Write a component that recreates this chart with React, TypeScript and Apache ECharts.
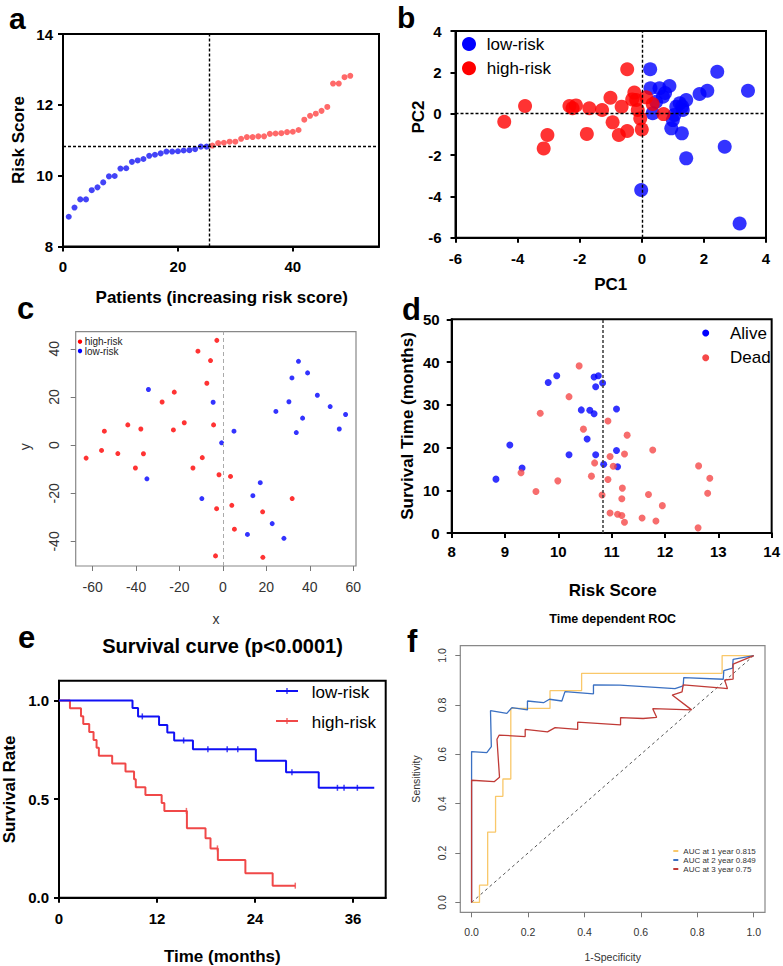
import React, { useEffect, useRef } from "react";
import * as echarts from "echarts";

const FONT = "'Liberation Sans', Arial, Helvetica, sans-serif";

// ---------- Panel a: risk score by patient ----------
const riskLow = [8.84, 9.1, 9.33, 9.33, 9.59, 9.67, 9.81, 9.98, 9.99, 10.2, 10.21, 10.39, 10.43, 10.47, 10.56, 10.59, 10.63, 10.68, 10.68, 10.69, 10.71, 10.72, 10.75, 10.82, 10.82];
const riskHigh = [10.85, 10.92, 10.93, 10.96, 10.96, 11.04, 11.09, 11.09, 11.11, 11.11, 11.18, 11.19, 11.2, 11.23, 11.24, 11.29, 11.58, 11.69, 11.75, 11.83, 11.94, 12.6, 12.6, 12.78, 12.82];
const riskCutoff = 10.84;
const patientSplit = 25.5;
const aXTicks = [0, 20, 40];
const aYTicks = [8, 10, 12, 14];

// ---------- Panel b: PCA ----------
const pcaLow = [[0.27, 2.15], [2.43, 2.03], [3.42, 1.11], [1.86, 0.95], [2.11, 1.11], [0.89, 1.34], [0.57, 1.23], [0.28, 1.23], [1.43, 0.66], [1.22, 0.5], [1.32, 0.18], [0.35, 0.02], [1.0, -0.31], [0.95, -0.71], [1.29, -0.95], [2.67, -1.6], [1.43, -2.16], [-0.02, -3.69], [3.15, -5.31], [0.68, 0.82], [1.11, 0.34], [1.05, -0.06], [0.46, 0.58], [0.75, 1.0], [1.3, 0.35]];
const pcaHigh = [[-4.43, -0.39], [-3.76, 0.37], [-3.16, -1.68], [-3.04, -1.03], [-2.33, 0.37], [-2.23, 0.26], [-2.12, 0.4], [-1.69, 0.26], [-1.28, 0.18], [-1.77, -0.98], [-1.01, 0.77], [-0.94, -0.42], [-0.65, 0.34], [-0.74, -1.03], [-0.47, -0.84], [-0.47, 2.15], [-0.24, 1.02], [-0.31, 0.69], [-0.13, 0.18], [-0.05, -0.23], [0, -0.76], [0.14, 0.79], [0.35, 0.47], [0.7, -0.02], [-0.18, 0.66]];
const bTicks = [-6, -4, -2, 0, 2, 4];

// ---------- Panel c: t-SNE ----------
const tsneHigh = [[-2.8, 43.5], [-11.5, 39.0], [-5.7, 35.1], [-7.4, 25.7], [-22.4, 22.0], [-28.0, 17.9], [-54.6, 5.8], [-43.8, 8.4], [-37.8, 6.7], [-22.8, 6.3], [-17.8, 9.3], [-4.3, 8.4], [-63.0, -5.4], [-55.9, -2.2], [-48.4, -3.5], [-36.6, -3.6], [-40.3, -9.5], [-13.8, -9.5], [-9.5, -5.2], [-1.8, -12.3], [3.5, -13.0], [31.9, -22.2], [-2.9, -26.4], [4.1, -25.0], [18.3, -27.7], [5.3, -34.9], [-3.4, -46.0], [18.4, -46.6]];
const tsneLow = [[-34.3, 23.1], [-4.5, 17.8], [-0.6, 0.95], [5.1, 5.8], [-35.0, -14.0], [17.2, -15.6], [24.4, 14.0], [30.4, 18.0], [31.8, 27.9], [34.8, 34.8], [39.0, 30.0], [36.7, 11.2], [33.8, 5.2], [43.5, 20.7], [49.4, 16.0], [56.5, 12.7], [53.6, 6.7], [-9.7, -22.2], [13.8, -21.0], [22.7, -32.6], [11.3, -37.1], [28.1, -38.7]];
const cXTicks = [-60, -40, -20, 0, 20, 40, 60];
const cYTicks = [-40, -20, 0, 20, 40];

// ---------- Panel d: survival status ----------
const alivePts = [[8.83, 12.6], [9.09, 20.6], [9.32, 15.2], [9.81, 35.2], [9.97, 36.8], [10.2, 18.3], [10.43, 28.8], [10.59, 28.7], [10.67, 27.9], [10.54, 22.0], [10.67, 36.5], [10.75, 36.8], [10.7, 34.2], [10.83, 35.1], [10.7, 18.3], [10.85, 16.1], [11.09, 29.0], [11.09, 19.3], [11.11, 15.5]];
const deadPts = [[10.39, 39.1], [10.2, 31.9], [9.66, 28.0], [10.47, 24.3], [10.93, 26.2], [11.29, 22.9], [11.77, 19.4], [10.97, 17.9], [11.24, 18.5], [11.03, 15.6], [10.68, 16.4], [12.63, 15.7], [12.84, 12.8], [9.3, 14.1], [9.99, 12.2], [10.62, 13.3], [10.93, 12.5], [9.58, 9.7], [10.82, 8.9], [11.2, 10.5], [11.19, 8.0], [11.69, 9.0], [12.8, 9.3], [11.95, 6.4], [10.97, 4.7], [11.11, 4.4], [11.19, 4.1], [11.24, 2.5], [11.57, 3.5], [11.83, 2.8], [12.62, 1.2]];
const dXTicks = [8, 9, 10, 11, 12, 13, 14];
const dYTicks = [0, 10, 20, 30, 40, 50];

// ---------- Panel e: Kaplan-Meier ----------
const kmLowTime = [0, 9.0, 9.68, 12.25, 13.26, 14.1, 16.4, 24.1, 27.8, 31.8, 38.6];
const kmLowSurv = [1.0, 0.961, 0.919, 0.876, 0.838, 0.797, 0.753, 0.694, 0.636, 0.557, 0.557];
const kmLowCensorTime = [10.2, 15.26, 18.23, 20.59, 21.89, 28.52, 34.09, 34.9, 36.53];
const kmLowCensorSurv = [0.919, 0.797, 0.753, 0.753, 0.753, 0.636, 0.557, 0.557, 0.557];
const kmHighTime = [0, 1.34, 2.69, 2.97, 3.7, 4.23, 4.6, 4.88, 6.51, 8.14, 9.19, 9.4, 10.58, 12.57, 12.9, 15.66, 17.94, 18.55, 19.45, 22.82, 26.16, 28.93];
const kmHighSurv = [1.0, 0.96, 0.92, 0.88, 0.84, 0.8, 0.76, 0.72, 0.68, 0.64, 0.6, 0.56, 0.52, 0.48, 0.44, 0.352, 0.301, 0.25, 0.191, 0.124, 0.061, 0.061];
const kmHighCensorTime = [15.6, 19.4, 28.93];
const kmHighCensorSurv = [0.44, 0.25, 0.061];
const eXTicks = [0, 12, 24, 36];
const eYTicks = [0, 0.5, 1.0];

// ---------- Panel f: time-dependent ROC ----------
const roc1 = [[0, 0], [0.028, 0], [0.028, 0.07], [0.057, 0.07], [0.057, 0.285], [0.085, 0.285], [0.085, 0.43], [0.111, 0.43], [0.111, 0.5], [0.139, 0.5], [0.139, 0.786], [0.278, 0.786], [0.278, 0.858], [0.39, 0.858], [0.39, 0.928], [0.888, 0.928], [0.888, 1.0], [1, 1]];
const roc2 = [[0, 0], [0, 0.611], [0.054, 0.607], [0.07, 0.631], [0.067, 0.777], [0.125, 0.766], [0.143, 0.789], [0.198, 0.78], [0.198, 0.816], [0.255, 0.809], [0.276, 0.823], [0.32, 0.816], [0.331, 0.854], [0.432, 0.845], [0.432, 0.881], [0.526, 0.88], [0.721, 0.866], [0.75, 0.877], [0.752, 0.911], [0.892, 0.904], [0.894, 0.939], [0.925, 0.949], [0.927, 0.985], [1, 1]];
const roc3 = [[0, 0], [0, 0.495], [0.08, 0.489], [0.099, 0.507], [0.09, 0.661], [0.098, 0.678], [0.19, 0.672], [0.19, 0.701], [0.269, 0.691], [0.296, 0.708], [0.376, 0.701], [0.376, 0.73], [0.528, 0.719], [0.528, 0.749], [0.608, 0.745], [0.656, 0.75], [0.642, 0.785], [0.78, 0.78], [0.711, 0.84], [0.746, 0.853], [0.75, 0.881], [0.89, 0.868], [0.907, 0.866], [0.897, 0.901], [0.927, 0.905], [0.927, 0.965], [1, 1]];
const rocDiag = [[0, 0], [1, 1]];
const rocLabels = ["AUC at 1 year 0.815", "AUC at 2 year 0.849", "AUC at 3 year 0.75"];
const fTicks = [0, 0.2, 0.4, 0.6, 0.8, 1.0];

const BLUE = "#0000FF";
const RED = "#FF0000";
const RED_A = "#FF4343";
const RED_D = "#F54848";
const ROC_COLORS = ["#F9C86A", "#3A70C2", "#C03A36"];

function boldAxis(gridIndex: number, min: number, max: number, ticks: number[], margin: number, fmt?: (v: number) => string) {
  return {
    gridIndex, type: "value", min, max,
    axisLine: { show: true, onZero: false, lineStyle: { color: "#000", width: 2 } },
    axisTick: { show: true, length: 5, customValues: ticks, lineStyle: { color: "#000", width: 2 } },
    axisLabel: { show: true, customValues: ticks, margin, color: "#000", fontFamily: FONT, fontWeight: "bold", fontSize: 15, formatter: fmt },
    splitLine: { show: false },
  };
}

function rAxis(gridIndex: number, min: number, max: number, ticks: number[], margin: number, fontSize: number, rotate: number, fmt?: (v: number) => string) {
  return {
    gridIndex, type: "value", min, max,
    axisLine: { show: false, onZero: false },
    axisTick: { show: true, length: 5, customValues: ticks, lineStyle: { color: "#777", width: 1 } },
    axisLabel: { show: true, customValues: ticks, margin, rotate, color: "#333", fontFamily: FONT, fontSize, formatter: fmt },
    splitLine: { show: false },
  };
}

function txt(x: number, y: number, text: string, size: number, o: any = {}) {
  const align = o.align || "center";
  return {
    type: "text", x, y, rotation: o.rot || 0, silent: true, z: 100,
    style: {
      text, x: 0, y: 0, fill: o.color || "#000", fontSize: size,
      fontWeight: o.bold ? "bold" : "normal", fontFamily: FONT,
      align, verticalAlign: "middle", textAlign: align, textVerticalAlign: "middle",
    },
  };
}
function circ(cx: number, cy: number, r: number, fill: string) {
  return { type: "circle", silent: true, z: 100, shape: { cx, cy, r }, style: { fill } };
}
function seg(x1: number, y1: number, x2: number, y2: number, stroke: string, w: number) {
  return { type: "line", silent: true, z: 100, shape: { x1, y1, x2, y2 }, style: { stroke, lineWidth: w } };
}

const f1 = (v: number) => v.toFixed(1);
const ROT = Math.PI / 2;

export default function App() {
  const ref = useRef<HTMLDivElement>(null);
  useEffect(() => {
    if (!ref.current) return;
    const chart = echarts.init(ref.current, null, { renderer: "svg" });
    const mlBase = { silent: true, symbol: ["none", "none"], label: { show: false }, emphasis: { disabled: true } };

    const option: any = {
      animation: false,
      textStyle: { fontFamily: FONT },
      grid: [
        { left: 63, top: 34, width: 316, height: 212.5, show: true, borderColor: "#000", borderWidth: 2 },
        { left: 455.5, top: 31, width: 310.5, height: 206.7, show: true, borderColor: "#000", borderWidth: 2 },
        { left: 75.7, top: 331.7, width: 280.3, height: 234.3, show: true, borderColor: "#888", borderWidth: 1.2 },
        { left: 451.7, top: 319.3, width: 322.3, height: 213.7, show: true, borderColor: "#000", borderWidth: 2 },
        { left: 59, top: 680.7, width: 326.7, height: 217, show: true, borderColor: "#000", borderWidth: 2 },
        { left: 460.3, top: 645.7, width: 304.7, height: 266.6, show: true, borderColor: "#888", borderWidth: 1.2 },
      ],
      xAxis: [
        boldAxis(0, 0, 55, aXTicks, 12),
        boldAxis(1, -6, 4, bTicks, 13),
        rAxis(2, -67.8, 61.3, cXTicks, 14, 14, 0),
        boldAxis(3, 8, 14, dXTicks, 11),
        boldAxis(4, 0, 40, eXTicks, 13),
        rAxis(5, -0.04, 1.04, fTicks, 14, 10.5, 0, f1),
      ],
      yAxis: [
        boldAxis(0, 8, 14, aYTicks, 10),
        boldAxis(1, -6, 4, bTicks, 14),
        rAxis(2, -50.2, 47.1, cYTicks, 15, 14, 90),
        boldAxis(3, 0, 50, dYTicks, 12),
        boldAxis(4, 0, 1.1, eYTicks, 10, f1),
        rAxis(5, -0.04, 1.04, fTicks, 13, 10.5, 90, f1),
      ],
      series: [
        // a
        {
          type: "scatter", xAxisIndex: 0, yAxisIndex: 0, symbolSize: 6, itemStyle: { color: "#1414F5" },
          data: riskLow.map((v, i) => [i + 1, v]),
          markLine: { ...mlBase, lineStyle: { color: "#000", width: 1.4, type: [3, 2] }, data: [{ xAxis: patientSplit }, { yAxis: riskCutoff }] },
        },
        { type: "scatter", xAxisIndex: 0, yAxisIndex: 0, symbolSize: 6, itemStyle: { color: RED_A }, data: riskHigh.map((v, i) => [i + 1 + riskLow.length, v]) },
        // b
        {
          type: "scatter", xAxisIndex: 1, yAxisIndex: 1, symbolSize: 14, itemStyle: { color: BLUE }, data: pcaLow,
          markLine: { ...mlBase, lineStyle: { color: "#000", width: 1.4, type: [3, 2] }, data: [{ xAxis: 0 }, { yAxis: 0 }] },
        },
        { type: "scatter", xAxisIndex: 1, yAxisIndex: 1, symbolSize: 14, itemStyle: { color: RED }, data: pcaHigh },
        // c
        {
          type: "scatter", xAxisIndex: 2, yAxisIndex: 2, symbolSize: 5, itemStyle: { color: RED }, data: tsneHigh,
          markLine: { ...mlBase, lineStyle: { color: "#AAA", width: 1, type: [4, 3] }, data: [{ xAxis: 0 }] },
        },
        { type: "scatter", xAxisIndex: 2, yAxisIndex: 2, symbolSize: 5, itemStyle: { color: BLUE }, data: tsneLow },
        // d
        {
          type: "scatter", xAxisIndex: 3, yAxisIndex: 3, symbolSize: 7, itemStyle: { color: BLUE }, data: alivePts,
          markLine: { ...mlBase, lineStyle: { color: "#444", width: 1.6, type: [3, 2] }, data: [{ xAxis: riskCutoff }] },
        },
        { type: "scatter", xAxisIndex: 3, yAxisIndex: 3, symbolSize: 7, itemStyle: { color: RED_D }, data: deadPts },
        // e
        {
          type: "line", xAxisIndex: 4, yAxisIndex: 4, step: "end", showSymbol: false, symbol: "none",
          lineStyle: { color: "#F04848", width: 2 }, data: kmHighTime.map((t, i) => [t, kmHighSurv[i]]),
        },
        {
          type: "scatter", xAxisIndex: 4, yAxisIndex: 4, symbol: "rect", symbolSize: [1.5, 6], itemStyle: { color: "#F04848" },
          data: kmHighCensorTime.map((t, i) => [t, kmHighCensorSurv[i]]),
        },
        {
          type: "line", xAxisIndex: 4, yAxisIndex: 4, step: "end", showSymbol: false, symbol: "none",
          lineStyle: { color: "#1010F5", width: 2 }, data: kmLowTime.map((t, i) => [t, kmLowSurv[i]]),
        },
        {
          type: "scatter", xAxisIndex: 4, yAxisIndex: 4, symbol: "rect", symbolSize: [1.5, 6], itemStyle: { color: "#1010F5" },
          data: kmLowCensorTime.map((t, i) => [t, kmLowCensorSurv[i]]),
        },
        // f
        { type: "line", xAxisIndex: 5, yAxisIndex: 5, showSymbol: false, symbol: "none", lineStyle: { color: "#555", width: 1, type: [3, 3] }, data: rocDiag },
        { type: "line", xAxisIndex: 5, yAxisIndex: 5, showSymbol: false, symbol: "none", lineStyle: { color: ROC_COLORS[0], width: 1.3 }, data: roc1 },
        { type: "line", xAxisIndex: 5, yAxisIndex: 5, showSymbol: false, symbol: "none", lineStyle: { color: ROC_COLORS[1], width: 1.3 }, data: roc2 },
        { type: "line", xAxisIndex: 5, yAxisIndex: 5, showSymbol: false, symbol: "none", lineStyle: { color: ROC_COLORS[2], width: 1.3 }, data: roc3 },
      ],
      graphic: [
        // panel letters
        txt(9, 18, "a", 30, { bold: true, align: "left" }),
        txt(397, 17, "b", 30, { bold: true, align: "left" }),
        txt(17, 308, "c", 31, { bold: true, align: "left" }),
        txt(402, 309, "d", 31, { bold: true, align: "left" }),
        txt(18, 637, "e", 31, { bold: true, align: "left" }),
        txt(407, 641, "f", 31, { bold: true, align: "left" }),
        // a
        txt(221.7, 297.3, "Patients (increasing risk score)", 17, { bold: true }),
        txt(18.5, 140, "Risk Score", 17, { bold: true, rot: ROT }),
        // b
        txt(418.5, 117, "PC2", 17, { bold: true, rot: ROT }),
        txt(610.7, 284, "PC1", 17, { bold: true }),
        circ(469, 44, 7, BLUE), circ(469, 68.3, 7, RED),
        txt(486.7, 44, "low-risk", 17, { align: "left" }),
        txt(486.7, 68.3, "high-risk", 17, { align: "left" }),
        // c
        txt(216, 619, "x", 14, { color: "#333" }),
        txt(25, 446.7, "y", 14, { color: "#333", rot: ROT }),
        circ(80, 341.7, 2.2, RED), circ(80, 351, 2.2, BLUE),
        txt(84.7, 341.7, "high-risk", 10, { align: "left", color: "#222" }),
        txt(84.7, 351, "low-risk", 10, { align: "left", color: "#222" }),
        // d
        txt(407, 426, "Survival Time (months)", 17, { bold: true, rot: ROT }),
        txt(612.7, 590, "Risk Score", 17, { bold: true }),
        circ(705.7, 333, 3.5, BLUE), circ(705.7, 357.7, 3.5, RED_D),
        txt(730, 333, "Alive", 17, { align: "left" }),
        txt(730, 357.7, "Dead", 17, { align: "left" }),
        // e
        txt(222.5, 646, "Survival curve (p<0.0001)", 20, { bold: true }),
        txt(9, 789.5, "Survival Rate", 17, { bold: true, rot: ROT }),
        txt(222.3, 956.7, "Time (months)", 17, { bold: true }),
        seg(276, 691, 298, 691, "#1010F5", 2), seg(287, 688, 287, 694, "#1010F5", 1.2),
        seg(276, 721, 298, 721, "#F04848", 2), seg(287, 718, 287, 724, "#F04848", 1.2),
        txt(311.7, 692, "low-risk", 17, { align: "left" }),
        txt(311.7, 722, "high-risk", 17, { align: "left" }),
        // f
        txt(612.7, 619.3, "Time dependent ROC", 12.5, { bold: true }),
        txt(612.7, 957, "1-Specificity", 10.5, { color: "#333" }),
        txt(416, 779, "Sensitivity", 10.5, { color: "#333", rot: ROT }),
        ...rocLabels.flatMap((lab, i) => [
          seg(673.3, 851 + i * 9, 678.3, 851 + i * 9, ROC_COLORS[i], 2),
          txt(683.3, 851 + i * 9, lab, 8, { align: "left", color: "#333" }),
        ]),
      ],
    };
    chart.setOption(option);
    return () => chart.dispose();
  }, []);
  return <div ref={ref} style={{ position: "absolute", left: 0, top: 0, width: 783, height: 966 }} />;
}
